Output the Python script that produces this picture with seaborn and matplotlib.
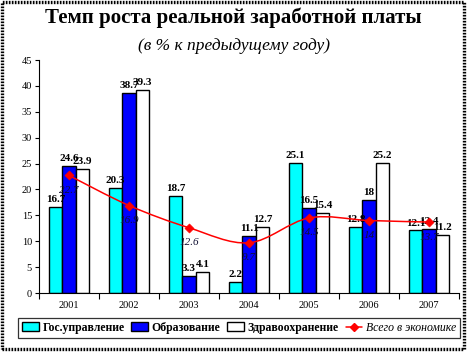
import numpy as np
import pandas as pd
import matplotlib
matplotlib.use('Agg')
import matplotlib.pyplot as plt
import seaborn as sns
from matplotlib.path import Path
from matplotlib.patches import PathPatch, Patch, Rectangle
from matplotlib.lines import Line2D

# ---- data ----
years = ['2001', '2002', '2003', '2004', '2005', '2006', '2007']
gos = [16.7, 20.3, 18.7, 2.2, 25.1, 12.8, 12.1]
obr = [24.6, 38.7, 3.3, 11.1, 16.5, 18.0, 12.4]
zdrav = [23.9, 39.3, 4.1, 12.7, 15.4, 25.2, 11.2]
total = [22.7, 16.9, 12.6, 9.7, 14.5, 14.0, 13.7]
series_names = ['Гос.управление', 'Образование', 'Здравоохранение']
total_name = 'Всего в экономике'

colors = ['#00FFFF', '#0000FF', '#FFFFFF']
SERIF = ['Liberation Serif', 'DejaVu Serif']

df = pd.DataFrame({
    'year': years * 3,
    'series': [series_names[0]] * 7 + [series_names[1]] * 7 + [series_names[2]] * 7,
    'value': gos + obr + zdrav,
})

sns.set_style('white', {'text.color': 'black', 'xtick.color': 'black', 'ytick.color': 'black',
                        'axes.labelcolor': 'black'})
plt.rcParams['font.family'] = SERIF

fig = plt.figure(figsize=(4.67, 3.52), dpi=100)
ax = fig.add_axes([0.0835, 0.1676, 0.8995, 0.6619])

sns.barplot(data=df, x='year', y='value', hue='series', palette=colors,
            width=0.675, gap=0, edgecolor='black', linewidth=1,
            ax=ax, legend=False, saturation=1)

# подписи столбцов
for cont in ax.containers:
    ax.bar_label(cont, fmt='%g', padding=2, fontsize=8, fontweight='bold', color='black')

# сглаженная линия "всего" (Catmull-Rom -> кубические Безье)
xs = np.arange(len(years), dtype=float)
ys = np.array(total, dtype=float)
pts = np.column_stack([xs, ys])
ext = np.vstack([pts[0], pts, pts[-1]])
verts = [tuple(pts[0])]
codes = [Path.MOVETO]
for i in range(len(pts) - 1):
    p0, p1, p2, p3 = ext[i], ext[i + 1], ext[i + 2], ext[i + 3]
    c1 = p1 + (p2 - p0) / 6
    c2 = p2 - (p3 - p1) / 6
    verts += [tuple(c1), tuple(c2), tuple(p2)]
    codes += [Path.CURVE4] * 3
ax.add_patch(PathPatch(Path(verts, codes), facecolor='none', edgecolor='red', lw=1.1, zorder=5))
sns.scatterplot(x=xs, y=ys, marker='D', color='red', s=22, edgecolor='red', ax=ax, zorder=6, legend=False)
for x, y in zip(xs, ys):
    ax.annotate(f'{y:g}', (x, y), xytext=(0, -15), textcoords='offset pixels',
                ha='center', va='center', fontsize=8, fontstyle='italic', color='#111133', zorder=7)

# оси
ax.set_ylim(0, 45)
ax.set_xlim(-0.5, len(years) - 0.5)
ax.set_yticks(np.arange(0, 46, 5))
ax.set_xlabel('')
ax.set_ylabel('')
for s in ['top', 'right']:
    ax.spines[s].set_visible(False)
for s in ['left', 'bottom']:
    ax.spines[s].set_color('black')
    ax.spines[s].set_linewidth(0.8)
ax.tick_params(axis='y', which='major', direction='out', length=3, width=0.8, labelsize=7.5, pad=2, left=True)
ax.tick_params(axis='x', which='major', length=0, labelsize=7.5, pad=6)
ax.set_xticks(np.arange(-0.5, len(years), 1.0), minor=True)
ax.tick_params(axis='x', which='minor', direction='out', length=4, width=0.8, bottom=True)

# заголовки
fig.text(0.5, 0.949, 'Темп роста реальной заработной платы', ha='center', va='center',
         fontsize=15, fontweight='bold', color='black')
fig.text(0.5, 0.870, '(в % к предыдущему году)', ha='center', va='center',
         fontsize=12.5, fontstyle='italic', color='black')

# легенда
handles = [Patch(facecolor=c, edgecolor='black', lw=1) for c in colors]
handles.append(Line2D([0], [0], color='red', lw=1.1, marker='D', markersize=4))
leg = fig.legend(handles, series_names + [total_name], loc='center', ncol=4,
                 bbox_to_anchor=(0.512, 0.068), frameon=True, fancybox=False,
                 fontsize=8.5, handlelength=1.4, handleheight=0.8, handletextpad=0.3,
                 columnspacing=0.6, borderpad=0.35, edgecolor='black')
leg.get_frame().set_linewidth(0.9)
for i, t in enumerate(leg.get_texts()):
    t.set_color('black')
    if i < 3:
        t.set_fontweight('bold')
    else:
        t.set_fontstyle('italic')

# пунктирная рамка диаграммы
fig.patches.append(Rectangle((0.005, 0.008), 0.988, 0.985, transform=fig.transFigure,
                             fill=False, linestyle=(0, (0.5, 0.4)), lw=2.4, edgecolor='black'))

fig.savefig('out.png', dpi=100)
